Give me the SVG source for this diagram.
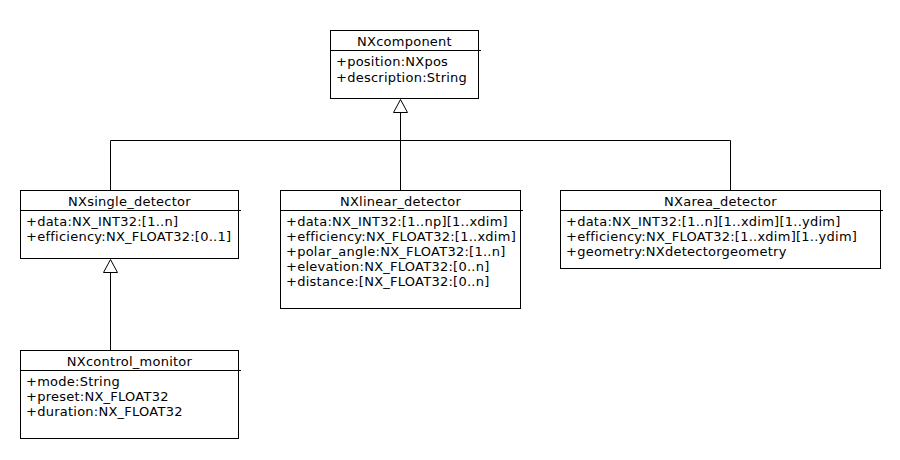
<svg xmlns="http://www.w3.org/2000/svg" width="900" height="460" viewBox="0 0 900 460">
<style>
.box{fill:#fff;stroke:#000;stroke-width:1}
.ln{stroke:#000;stroke-width:1;fill:none}
.tri{fill:#fff;stroke:#000;stroke-width:1}
text{font-family:"DejaVu Sans",sans-serif;font-size:13px;letter-spacing:0.25px;fill:#000}
.t{text-anchor:middle}
</style>
<rect width="900" height="460" fill="#fff"/>
<g id="connectors">
<polyline class="ln" points="110.5,190 110.5,140.5 730.5,140.5 730.5,190"/>
<line class="ln" x1="400.5" y1="112" x2="400.5" y2="190"/>
<polygon class="tri" points="400.5,99.5 393.5,112.5 407.5,112.5"/>
<line class="ln" x1="110.5" y1="272" x2="110.5" y2="350"/>
<polygon class="tri" points="110.5,259.5 103.5,272.5 117.5,272.5"/>
</g>
<g id="NXcomponent">
<rect class="box" x="330.5" y="30.5" width="148" height="68"/>
<line class="ln" x1="330.5" y1="50.5" x2="481" y2="50.5"/>
<text class="t" x="404.5" y="46">NXcomponent</text>
<text x="336" y="66">+position:NXpos</text>
<text x="336" y="82">+description:String</text>
</g>
<g id="NXsingle_detector">
<rect class="box" x="20.5" y="190.5" width="218" height="68"/>
<line class="ln" x1="20.5" y1="210.5" x2="241" y2="210.5"/>
<text class="t" x="129.5" y="206">NXsingle_detector</text>
<text x="26" y="226">+data:NX_INT32:[1..n]</text>
<text x="26" y="241">+efficiency:NX_FLOAT32:[0..1]</text>
</g>
<g id="NXlinear_detector">
<rect class="box" x="280.5" y="190.5" width="240" height="118"/>
<line class="ln" x1="280.5" y1="210.5" x2="523" y2="210.5"/>
<text class="t" x="400.5" y="206">NXlinear_detector</text>
<text x="286" y="226">+data:NX_INT32:[1..np][1..xdim]</text>
<text x="286" y="241">+efficiency:NX_FLOAT32:[1..xdim]</text>
<text x="286" y="256">+polar_angle:NX_FLOAT32:[1..n]</text>
<text x="286" y="271">+elevation:NX_FLOAT32:[0..n]</text>
<text x="286" y="286">+distance:[NX_FLOAT32:[0..n]</text>
</g>
<g id="NXarea_detector">
<rect class="box" x="560.5" y="190.5" width="320" height="78"/>
<line class="ln" x1="560.5" y1="210.5" x2="883" y2="210.5"/>
<text class="t" x="720.5" y="206">NXarea_detector</text>
<text x="566" y="226">+data:NX_INT32:[1..n][1..xdim][1..ydim]</text>
<text x="566" y="241">+efficiency:NX_FLOAT32:[1..xdim][1..ydim]</text>
<text x="566" y="256">+geometry:NXdetectorgeometry</text>
</g>
<g id="NXcontrol_monitor">
<rect class="box" x="20.5" y="350.5" width="218" height="88"/>
<line class="ln" x1="20.5" y1="370.5" x2="241" y2="370.5"/>
<text class="t" x="129.5" y="366">NXcontrol_monitor</text>
<text x="26" y="386">+mode:String</text>
<text x="26" y="401">+preset:NX_FLOAT32</text>
<text x="26" y="416">+duration:NX_FLOAT32</text>
</g>
</svg>
